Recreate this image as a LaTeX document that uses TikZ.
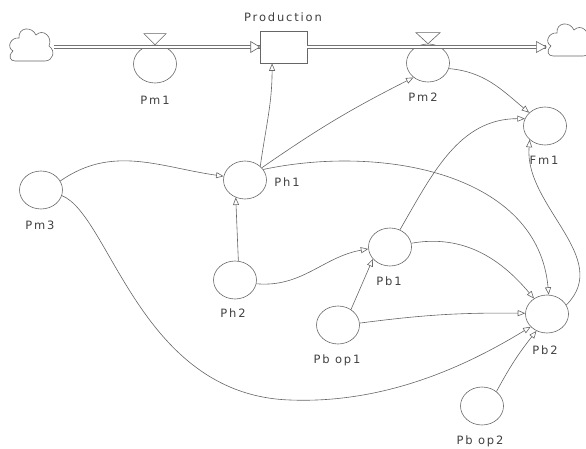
\documentclass[tikz,border=0pt]{standalone}
\usepackage{fontspec}
\newfontfamily\lblfont[LetterSpace=16]{DejaVu Sans}
\usetikzlibrary{arrows.meta,shapes.geometric,calc}

\begin{document}
\begin{tikzpicture}[x=1pt,y=1pt,
  ink/.style={draw=black!60, line width=0.6pt},
  aux/.style={ellipse, ink, minimum width=43pt, minimum height=38pt, inner sep=0pt},
  lbl/.style={font=\lblfont\fontsize{11.5}{13}\selectfont, text=black!75, inner sep=1pt},
  link/.style={ink, -{Triangle[open, length=7.5pt, width=6pt]}},
  pipe/.style={draw=black!55, line width=0.6pt, double=white, double distance=2.4pt},
  stockbox/.style={rectangle, ink, minimum width=47pt, minimum height=32pt, inner sep=0pt},
  cloudhold/.style={minimum width=45pt, minimum height=35pt, inner sep=0pt},
  cloudpic/.pic={
    \draw[ink] (-16,-16) -- (14,-16)
      .. controls (22,-16) and (25,-6) .. (18,-1)
      .. controls (22,8) and (12,17) .. (5,10)
      .. controls (1,19) and (-13,18) .. (-12,7)
      .. controls (-20,8) and (-25,-2) .. (-18,-6)
      .. controls (-24,-12) and (-20,-16) .. (-16,-16) -- cycle;
  },
]
\useasboundingbox (0,0) rectangle (586,-449);

% sources and sinks of the flow
\node[cloudhold] (cloudL) at (31,-45) {};
\pic at (cloudL) {cloudpic};
\node[cloudhold] (cloudR) at (569,-40) {};
\pic at (cloudR) {cloudpic};

% stock
\node[stockbox] (prod) at (283.5,-47) {};
\node[lbl] (prodl) at (283,-17) {Production};

% auxiliaries
\node[aux] (Pm1) at (155,-64) {};
\node[aux] (Pm2) at (428,-63) {};
\node[aux] (Fm1) at (545,-126) {};
\node[aux] (Ph1) at (245,-180) {};
\node[aux] (Pm3) at (41,-190) {};
\node[aux] (Ph2) at (235,-280) {};
\node[aux] (Pb1) at (390,-247) {};
\node[aux] (PbOp1) at (338,-325) {};
\node[aux] (Pb2) at (547,-314) {};
\node[aux] (PbOp2) at (482,-406) {};

\node[lbl] (Pm1l) at (155,-100) {Pm1};
\node[lbl] (Pm2l) at (423,-97) {Pm2};
\node[lbl] (Fm1l) at (544,-160) {Fm1};
\node[lbl] (Ph1l) at (287,-182) {Ph1};
\node[lbl] (Pm3l) at (40,-225) {Pm3};
\node[lbl] (Ph2l) at (233,-313) {Ph2};
\node[lbl] (Pb1l) at (389,-281) {Pb1};
\node[lbl] (PbOp1l) at (337,-360) {Pb op1};
\node[lbl] (Pb2l) at (545,-350) {Pb2};
\node[lbl] (PbOp2l) at (480,-441) {Pb op2};

% flow pipes with their heads
\draw[pipe] (prod.west -| cloudL.east) -- (prod.west);
\draw[ink, fill=white] (prod.west) -- ++(-9,5.5) -- ++(0,-11) -- cycle;
\draw[pipe] (prod.east) -- (prod.east -| cloudR.west);
\draw[ink, fill=white] (prod.east -| cloudR.west) -- ++(-10,5.5) -- ++(0,-11) -- cycle;

% valves
\draw[ink, fill=white] (Pm1.north) -- ++(-11,11) -- ++(22,0) -- cycle;
\draw[ink, fill=white] (Pm2.north) -- ++(-12,11) -- ++(24,0) -- cycle;

% information links
\draw[link] (Ph1.42) to[out=82,in=-90] (prod.-125);
\draw[link] (Ph1.36) to[bend left=4] (Pm2.225);
\draw[link] (Pm2.-15) to[out=-5,in=140] (Fm1.140);
\draw[link] (Pb1.60) to[out=60,in=180] (Fm1.160);
\draw[link] (Pb2.25) to[out=45,in=-95] (Fm1.222);
\draw[link] (Pm3.25) to[out=35,in=172] (Ph1.170);
\draw[link] (Pm3.-15) .. controls (110,-215) and (140,-395) .. (290,-400)
  .. controls (390,-404) and (473,-362) .. (Pb2.218);
\draw[link] (Ph2.80) -- (Ph1.-118);
\draw[link] (Ph2.-10) to[out=-5,in=190] (Pb1.185);
\draw[link] (PbOp1.50) -- (Pb1.215);
\draw[link] (PbOp1.5) to[bend left=4] (Pb2.178);
\draw[link] (Ph1.30) to[out=12,in=95] (Pb2.85);
\draw[link] (Pb1.10) to[out=10,in=130] (Pb2.130);
\draw[link] (PbOp2.45) to[bend left=5] (Pb2.238);
\end{tikzpicture}
\end{document}
